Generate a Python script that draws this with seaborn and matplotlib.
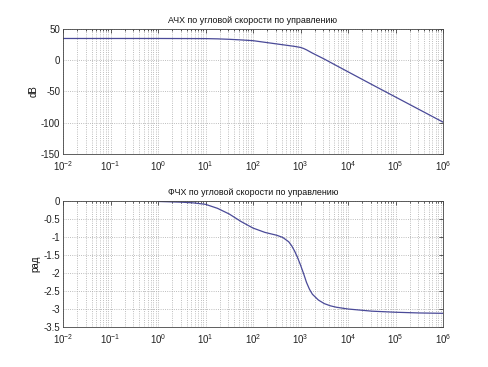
import numpy as np
import pandas as pd
import matplotlib
matplotlib.use("Agg")
import matplotlib.pyplot as plt
import matplotlib.ticker as mticker
import seaborn as sns

# ---- data ----
mag_freq = [1e-2, 1e-1, 1e0, 1e1, 10**1.25, 10**1.5, 10**1.75, 1e2, 10**2.25, 10**2.5,
            10**2.75, 10**2.875, 1e3, 10**3.0625, 10**3.125, 10**3.25, 10**3.5, 10**3.75,
            1e4, 10**4.5, 1e5, 10**5.5, 1e6]
mag_db = [34.3, 34.3, 34.3, 34.1, 33.7, 33.0, 32.0, 30.8, 28.2, 25.6,
          23.0, 21.7, 20.0, 18.4, 16.2, 11.0, 1.5, -8.7,
          -18.8, -39.0, -59.0, -79.0, -99.0]

ph_freq = [1e0, 10**0.25, 10**0.5, 10**0.75, 1e1, 10**1.25, 10**1.5, 10**1.75, 1e2,
           10**2.25, 10**2.5, 10**2.625, 10**2.75, 10**2.8125, 10**2.875, 10**2.9375,
           1e3, 10**3.0625, 10**3.125, 10**3.1875, 10**3.25, 10**3.375, 10**3.5,
           10**3.625, 10**3.75, 1e4, 10**4.5, 1e5, 10**5.5, 1e6]
ph_rad = [-0.02, -0.03, -0.04, -0.06, -0.10, -0.21, -0.37, -0.58, -0.76,
          -0.88, -0.96, -1.02, -1.14, -1.25, -1.40, -1.58,
          -1.79, -2.02, -2.27, -2.46, -2.60, -2.76, -2.86,
          -2.92, -2.96, -3.01, -3.07, -3.10, -3.12, -3.13]

title_top = "АЧХ по угловой скорости по управлению"
title_bot = "ФЧХ по угловой скорости по управлению"
ylabel_top = "dB"
ylabel_bot = "рад"
x_lim = (1e-2, 1e6)
top_yticks = [50, 0, -50, -100, -150]
bot_yticks = [0, -0.5, -1, -1.5, -2, -2.5, -3, -3.5]

sns.set_style("white")
plt.rcParams['font.family'] = ['Liberation Sans', 'DejaVu Sans']
plt.rcParams['axes.unicode_minus'] = False
plt.rcParams['mathtext.fontset'] = 'custom'
plt.rcParams['mathtext.rm'] = 'Liberation Sans'
plt.rcParams['mathtext.it'] = 'Liberation Sans'

line_color = '#4a4a98'
fs_tick = 7
fs_title = 6.4

fig = plt.figure(figsize=(4.89, 3.67), dpi=100)
ax1 = fig.add_axes([0.129, 0.580, 0.777, 0.342])
ax2 = fig.add_axes([0.129, 0.110, 0.777, 0.343])

df_mag = pd.DataFrame({"w": mag_freq, "v": mag_db})
df_ph = pd.DataFrame({"w": ph_freq, "v": ph_rad})

for ax, df, title, ylab, yt in [(ax1, df_mag, title_top, ylabel_top, top_yticks),
                                (ax2, df_ph, title_bot, ylabel_bot, bot_yticks)]:
    ax.set_xscale('log')
    sns.lineplot(data=df, x="w", y="v", ax=ax, color=line_color, linewidth=0.9)
    ax.set_xlim(*x_lim)
    ax.set_ylim(min(yt), max(yt))
    ax.set_yticks(yt)
    ax.yaxis.set_major_formatter(mticker.FuncFormatter(lambda v, p: f"{v:g}"))
    ax.xaxis.set_major_locator(mticker.LogLocator(base=10, numticks=20))
    ax.xaxis.set_minor_locator(mticker.LogLocator(base=10, subs=np.arange(2, 10), numticks=100))
    ax.xaxis.set_minor_formatter(mticker.NullFormatter())
    ax.grid(True, which='both', axis='x', linestyle=':', color='#a8a8a8', linewidth=0.6)
    ax.grid(True, which='major', axis='y', linestyle=':', color='#a8a8a8', linewidth=0.6)
    ax.tick_params(which='both', direction='in', top=True, right=True, labelsize=fs_tick,
                   colors='#222222')
    ax.tick_params(axis='y', pad=2)
    ax.tick_params(axis='x', pad=4)
    ax.tick_params(which='major', length=3, width=0.5)
    ax.tick_params(which='minor', length=1.5, width=0.5)
    for s in ax.spines.values():
        s.set_color('#444444')
        s.set_linewidth(0.6)
    ax.set_title(title, fontsize=fs_title, pad=4, color='#111111')
    ax.set_ylabel(ylab, fontsize=fs_tick, labelpad=2, color='#111111')
    ax.set_xlabel("")

fig.savefig("out.png", dpi=100, facecolor='white')
